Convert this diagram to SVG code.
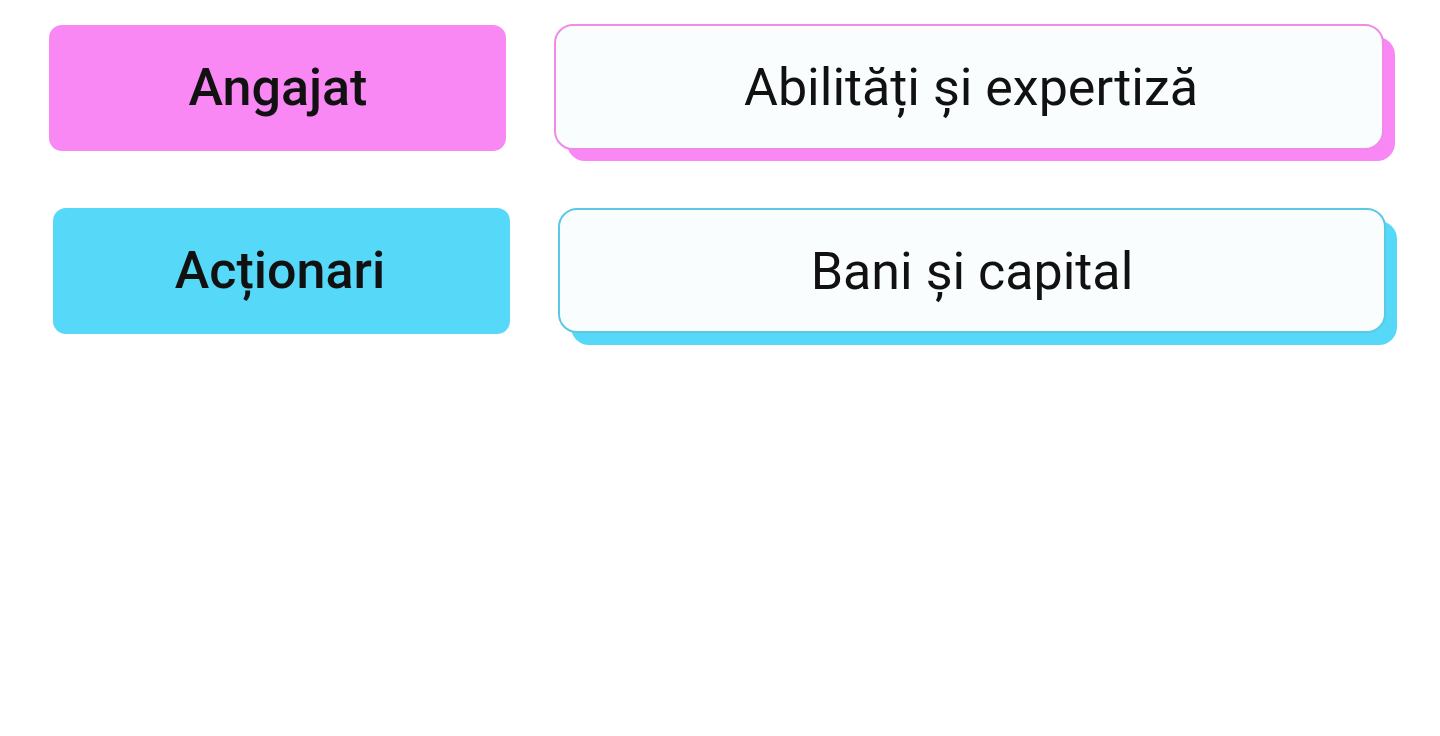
<svg xmlns="http://www.w3.org/2000/svg" width="1440" height="736" viewBox="0 0 1440 736">
<style>
.lbl{font-family:Roboto,"Liberation Sans",sans-serif;font-weight:500;font-size:52px;fill:#111;text-anchor:middle}
.val{font-family:Roboto,"Liberation Sans",sans-serif;font-weight:400;font-size:52px;fill:#111;text-anchor:middle}
.pink{fill:#f987f4}
.blue{fill:#56d8f9}
.card{fill:#f9fdfe;stroke-width:2}
</style>
<rect width="1440" height="736" fill="#ffffff"/>
<g id="connectors"></g>
<g id="node-angajat">
<rect class="pink" x="49" y="25" width="457" height="126" rx="13"/>
<text class="lbl" x="278" y="105">Angajat</text>
</g>
<g id="node-abilitati">
<rect class="pink" x="567" y="37" width="828" height="124" rx="18"/>
<rect class="card" x="555" y="25" width="828" height="124" rx="18" stroke="#f08ae8"/>
<text class="val" x="971" y="105">Abilități și expertiză</text>
</g>
<g id="node-actionari">
<rect class="blue" x="53" y="208" width="457" height="126" rx="13"/>
<text class="lbl" x="280" y="288">Acționari</text>
</g>
<g id="node-bani">
<rect class="blue" x="571" y="221" width="826" height="124" rx="18"/>
<rect class="card" x="559" y="209" width="826" height="123" rx="18" stroke="#5cc8e4"/>
<text class="val" x="972" y="289">Bani și capital</text>
</g>
</svg>
